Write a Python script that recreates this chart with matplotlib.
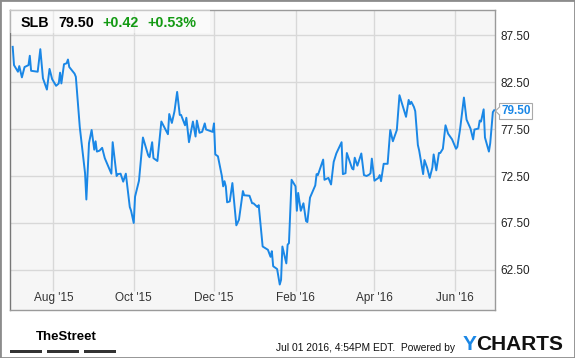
import matplotlib
matplotlib.use("Agg")
import matplotlib.pyplot as plt
import matplotlib.dates as mdates
from matplotlib.patches import Rectangle, Polygon
from matplotlib.transforms import blended_transform_factory
import numpy as np
import pandas as pd

plt.rcParams['font.family'] = ['Liberation Sans', 'DejaVu Sans']

# SLB fiyat verisi
ticker = "SLB"
last_price = "79.50"
change_abs = "+0.42"
change_pct = "+0.53%"
start_date = "2015-07-01"
days = [0, 1, 4, 5, 7, 9, 12, 13, 14, 19, 21, 23, 26, 28, 30, 33, 35, 36, 37, 39,
        41, 42, 43, 47, 48, 51, 55, 56, 58, 60, 62, 63, 64, 66, 68, 70, 75, 76, 79, 80,
        82, 84, 86, 89, 90, 92, 93, 96, 99, 103, 104, 106, 107, 110, 111, 113, 118, 119, 121, 123,
        125, 127, 128, 131, 132, 134, 137, 139, 140, 142, 144, 146, 147, 152, 153, 154, 156, 159, 160, 161,
        162, 163, 165, 167, 170, 172, 175, 176, 180, 182, 183, 186, 187, 190, 194, 196, 197, 198, 201, 203,
        204, 205, 208, 209, 210, 212, 215, 216, 217, 219, 221, 223, 224, 226, 230, 231, 232, 236, 237, 240,
        242, 244, 245, 246, 250, 251, 253, 254, 258, 259, 260, 262, 265, 267, 269, 271, 272, 273, 275, 278,
        279, 280, 282, 285, 287, 289, 292, 294, 299, 301, 302, 303, 305, 306, 308, 309, 312, 313, 315, 317,
        319, 320, 322, 324, 325, 327, 329, 331, 334, 337, 338, 340, 343, 345, 348, 350, 351, 354, 355, 356,
        358, 359, 362, 363, 365, 366]
prices = [86.25, 84.3, 83.6, 84.2, 83.0, 84.1, 84.3, 85.3, 83.7, 83.6, 86.0, 82.9, 81.7, 83.9, 82.8, 82.1, 82.35, 83.5, 82.35, 84.4,
          84.5, 84.9, 84.1, 83.4, 83.06, 77.7, 72.8, 70.0, 76.0, 77.4, 75.3, 76.2, 75.1, 75.2, 75.5, 74.4, 72.75, 76.1, 72.5, 72.7,
          72.75, 71.9, 72.75, 69.2, 68.8, 67.5, 70.3, 72.0, 76.6, 74.7, 74.5, 76.1, 74.4, 74.1, 75.5, 78.3, 76.95, 79.1, 78.15, 79.4,
          81.45, 79.0, 79.0, 77.9, 78.7, 76.1, 78.3, 76.7, 78.4, 77.1, 77.2, 78.1, 77.45, 77.2, 78.1, 74.8, 74.6, 72.5, 71.4, 71.95,
          71.4, 69.7, 69.8, 71.75, 67.25, 67.85, 70.9, 70.45, 70.4, 69.6, 69.6, 69.2, 69.4, 65.0, 64.65, 63.9, 64.5, 62.9, 62.6, 60.95,
          61.45, 65.0, 63.2, 65.2, 65.35, 72.1, 71.4, 68.8, 70.7, 68.8, 69.6, 67.7, 67.6, 70.2, 71.5, 72.7, 72.6, 74.25, 72.1, 72.3,
          71.6, 74.0, 74.45, 74.9, 76.1, 72.7, 72.8, 74.95, 73.3, 73.2, 74.45, 73.6, 74.9, 72.6, 72.5, 72.65, 72.8, 74.35, 72.0, 72.3,
          72.6, 71.95, 73.8, 73.8, 77.4, 76.2, 77.4, 81.1, 78.8, 80.6, 80.15, 80.4, 79.85, 79.4, 75.8, 75.2, 72.7, 74.2, 73.4, 72.3,
          73.4, 74.8, 73.1, 74.95, 74.95, 75.4, 77.9, 77.0, 76.4, 75.4, 75.6, 77.4, 80.85, 78.5, 77.55, 76.4, 77.45, 77.55, 78.4, 78.3,
          79.6, 76.6, 75.1, 76.0, 79.3, 79.5]
tick_dates = ["2015-08-01", "2015-10-01", "2015-12-01", "2016-02-01", "2016-04-01", "2016-06-01"]
tick_labels = ["Aug '15", "Oct '15", "Dec '15", "Feb '16", "Apr '16", "Jun '16"]
y_ticks = [62.5, 67.5, 72.5, 77.5, 82.5, 87.5]

line_color = "#1a87e6"
green = "#139a13"
W, H = 575, 358

dates = pd.Timestamp(start_date) + pd.to_timedelta(days, unit="D")

fig = plt.figure(figsize=(W / 100, H / 100), dpi=100)
ax = fig.add_axes([10 / W, 1 - 310 / H, 484.7 / W, 300 / H])
ax.set_facecolor("#f6f6f6")

x0 = mdates.date2num(pd.Timestamp(start_date))
ax.set_xlim(x0 - 2.05, x0 + 366.4)
ax.set_ylim(58.24, 90.17)

# grid cizgileri
for yv in y_ticks:
    ax.axhline(yv, color="#d8d8d8", lw=1, zorder=1)
tick_nums = mdates.date2num(pd.to_datetime(tick_dates))
ax.vlines(tick_nums, 60.3, 90.17, color="#d8d8d8", lw=1, zorder=1)

ax.plot(dates, prices, color=line_color, lw=1.4, zorder=3)

# x etiketleri (cizim alaninin icinde)
trans = blended_transform_factory(ax.transData, ax.transAxes)
for xn, lab in zip(tick_nums, tick_labels):
    ax.text(xn, 0.04, lab, transform=trans, ha="center", va="center",
            fontsize=8.5, color="#333333")

ax.set_xticks([])
ax.yaxis.tick_right()
ax.set_yticks(y_ticks)
ax.set_yticklabels([f"{v:.2f}" for v in y_ticks], fontsize=8.5, color="#222222")
ax.tick_params(axis="y", length=0, pad=4)
for side in ["left", "right", "top", "bottom"]:
    ax.spines[side].set_color("#9a9a9a")
    ax.spines[side].set_linewidth(1)
ax.spines["left"].set_color("#777777")

# ust bilgi kutusu
fig.patches.append(Rectangle((10 / W, 1 - 33 / H), 200 / W, 23 / H, transform=fig.transFigure,
                             facecolor="white", alpha=0.45, edgecolor="none", zorder=5))
hy = 1 - 23 / H
fig.text(21 / W, hy, ticker, fontsize=10.3, fontweight="bold", va="center", zorder=6)
fig.text(58 / W, hy, last_price, fontsize=10.3, fontweight="bold", va="center", zorder=6)
fig.text(102 / W, hy, change_abs, fontsize=10.3, fontweight="bold", color=green, va="center", zorder=6)
fig.text(147 / W, hy, change_pct, fontsize=10.3, fontweight="bold", color=green, va="center", zorder=6)

# son deger etiketi
fig.text(501 / W, 1 - 111 / H, last_price, fontsize=8.5, fontweight="bold", color=line_color,
         va="center", ha="left", zorder=7,
         bbox=dict(boxstyle="square,pad=0.15", facecolor="white", edgecolor="#aaaaaa", lw=0.8))
fig.patches.append(Polygon([(500 / W, 1 - 106.5 / H), (495.5 / W, 1 - 111 / H), (500 / W, 1 - 115.5 / H)],
                           closed=False, transform=fig.transFigure, facecolor="white",
                           edgecolor="#aaaaaa", lw=0.8, zorder=8))

# alt bilgi
fig.text(36 / W, 1 - 337 / H, "TheStreet", fontsize=9.5, fontweight="bold", va="center")
for bx in [10, 47, 84]:
    fig.patches.append(Rectangle((bx / W, 1 - 352.5 / H), 32 / W, 3 / H,
                                 transform=fig.transFigure, facecolor="#333333", edgecolor="none"))
fig.text(276 / W, 1 - 348 / H, "Jul 01 2016, 4:54PM EDT.  Powered by", fontsize=7.4,
         va="center", color="#111111")
fig.text(463 / W, 1 - 345 / H, "Y", fontsize=15, fontweight="bold", color=line_color, va="center")
fig.text(476.5 / W, 1 - 345 / H, "CHARTS", fontsize=15, fontweight="bold", color="#111111", va="center")

# dis cerceve
fig.patches.append(Rectangle((0, 0), 1, 1, transform=fig.transFigure, fill=False,
                             edgecolor="#8c8c8c", lw=2))

fig.savefig("out.png", dpi=100)
